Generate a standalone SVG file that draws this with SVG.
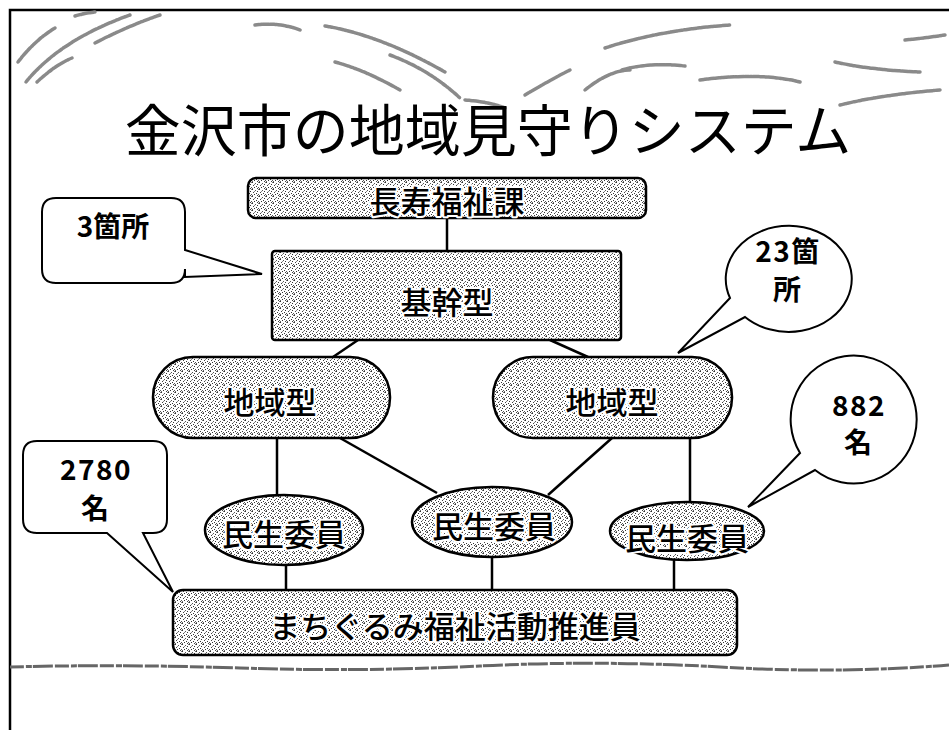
<svg xmlns="http://www.w3.org/2000/svg" width="949" height="730" viewBox="0 0 949 730">
<style>
.box{fill:url(#stip);stroke:#000;stroke-width:2.5}
.lbl{font-family:"Noto Sans CJK JP","Noto Sans",sans-serif;font-size:31px;font-weight:500;fill:#000;text-anchor:middle;dominant-baseline:central;stroke:#fff;stroke-width:4;paint-order:stroke;stroke-linejoin:round}
.call{fill:#fff;stroke:#000;stroke-width:2}
.ctx{font-family:"Noto Sans CJK JP","Liberation Sans",sans-serif;font-size:28px;font-weight:bold;fill:#000;text-anchor:middle;dominant-baseline:central}
.dg{letter-spacing:1.5px}
.con{stroke:#000;stroke-width:2.5;fill:none}
.sw{fill:none;stroke:#8a8a8a;stroke-width:3.5;stroke-dasharray:4 1 2 1 6 1;stroke-linecap:round}
</style>
<defs>
<pattern id="stip" width="7" height="7" patternUnits="userSpaceOnUse">
<rect width="7" height="7" fill="#fff"/>
<rect x="0" y="0" width="1" height="1" fill="#333"/>
<rect x="3" y="1" width="1" height="1" fill="#555"/>
<rect x="5" y="2" width="1" height="1" fill="#333"/>
<rect x="1" y="3" width="1" height="1" fill="#444"/>
<rect x="4" y="4" width="1" height="1" fill="#333"/>
<rect x="6" y="5" width="1" height="1" fill="#555"/>
<rect x="2" y="5" width="1" height="1" fill="#333"/>
<rect x="0" y="6" width="1" height="1" fill="#666"/>
<rect x="5" y="6" width="1" height="1" fill="#444"/>
<rect x="2" y="2" width="1" height="1" fill="#888"/>
<rect x="6" y="0" width="1" height="1" fill="#777"/>
</pattern>
</defs>
<rect width="949" height="730" fill="#fff"/>
<!-- frame -->
<path d="M10 730 V10 H949" fill="none" stroke="#000" stroke-width="2.5"/>
<!-- decorative swooshes -->
<g id="decor">
<path class="sw" d="M18 62 Q35 40 55 28"/>
<path class="sw" d="M26 82 Q60 40 130 15"/>
<path class="sw" d="M37 82 Q55 65 72 58"/>
<path class="sw" d="M95 43 Q130 25 160 15"/>
<path class="sw" d="M75 16 Q85 13 95 12"/>
<path class="sw" d="M255 25 Q280 22 300 30"/>
<path class="sw" d="M325 26 Q380 35 445 72"/>
<path class="sw" d="M335 62 Q365 70 400 90"/>
<path class="sw" d="M390 55 Q430 70 460 98"/>
<path class="sw" d="M465 100 Q490 102 505 108"/>
<path class="sw" d="M525 95 Q550 80 570 70"/>
<path class="sw" d="M585 90 Q610 70 630 70"/>
<path class="sw" d="M605 48 Q660 30 730 25"/>
<path class="sw" d="M622 70 Q650 62 685 66"/>
<path class="sw" d="M700 80 Q760 72 800 82"/>
<path class="sw" d="M835 62 Q870 70 920 72"/>
<path class="sw" d="M840 105 Q880 95 940 90"/>
<path class="sw" d="M905 40 Q925 38 945 35"/>
</g>
<!-- bottom wavy line -->
<path d="M10 667 Q120 664 240 668 T480 666 T720 667 T949 665" fill="none" stroke="#666" stroke-width="3" stroke-dasharray="14 2 6 1 20 2"/>
<!-- title -->
<text x="488" y="126" font-family="Noto Sans CJK JP, Noto Sans, sans-serif" font-size="56" text-anchor="middle" dominant-baseline="central" fill="#000">金沢市の地域見守りシステム</text>
<!-- connectors -->
<g id="connectors">
<line class="con" x1="447" y1="218" x2="447" y2="251"/>
<line class="con" x1="358" y1="340" x2="333" y2="357"/>
<line class="con" x1="550" y1="340" x2="588" y2="357"/>
<line class="con" x1="277" y1="438" x2="277" y2="495"/>
<line class="con" x1="340" y1="438" x2="437" y2="493"/>
<line class="con" x1="612" y1="438" x2="548" y2="495"/>
<line class="con" x1="690" y1="438" x2="690" y2="503"/>
<line class="con" x1="286" y1="565" x2="286" y2="590"/>
<line class="con" x1="492" y1="557" x2="492" y2="590"/>
<line class="con" x1="674" y1="559" x2="674" y2="590"/>
</g>
<!-- nodes -->
<g id="n-choju">
<rect class="box" x="248" y="178" width="398" height="40" rx="8"/>
<text class="lbl" x="447" y="199">長寿福祉課</text>
</g>
<g id="n-kikan">
<rect class="box" x="272" y="251" width="349" height="89" rx="3"/>
<text class="lbl" x="447" y="300">基幹型</text>
</g>
<g id="n-chiiki1">
<rect class="box" x="153" y="357" width="237" height="81" rx="40"/>
<text class="lbl" x="270" y="400">地域型</text>
</g>
<g id="n-chiiki2">
<rect class="box" x="493" y="357" width="239" height="81" rx="40"/>
<text class="lbl" x="612" y="400">地域型</text>
</g>
<g id="n-minsei1">
<ellipse class="box" cx="284" cy="530" rx="79" ry="35"/>
<text class="lbl" x="284" y="532">民生委員</text>
</g>
<g id="n-minsei2">
<ellipse class="box" cx="492" cy="522" rx="80" ry="35"/>
<text class="lbl" x="494" y="524">民生委員</text>
</g>
<g id="n-minsei3">
<ellipse class="box" cx="687" cy="531" rx="77" ry="29"/>
<text class="lbl" x="687" y="536">民生委員</text>
</g>
<g id="n-machi">
<rect class="box" x="173" y="590" width="564" height="65" rx="10"/>
<text class="lbl" x="455" y="624">まちぐるみ福祉活動推進員</text>
</g>
<!-- callouts -->
<g id="c-3">
<path class="call" d="M56 198 H171 Q185 198 185 212 V250 L262 274 L185 277 V269 Q185 283 171 283 H56 Q42 283 42 269 V212 Q42 198 56 198 Z"/>
<text class="ctx" x="113" y="225">3箇所</text>
</g>
<g id="c-23">
<path class="call" d="M730 298 A63 53 0 1 1 745 317 L678 353 Z"/>
<text class="ctx dg" x="788" y="250">23箇</text>
<text class="ctx" x="787" y="288">所</text>
</g>
<g id="c-882">
<path class="call" d="M800 453 A63 64 0 1 1 815 470 L748 507 Z"/>
<text class="ctx dg" x="859" y="404">882</text>
<text class="ctx" x="858" y="441">名</text>
</g>
<g id="c-2780">
<path class="call" d="M37 441 H153 Q167 441 167 455 V519 Q167 533 153 533 H143 L173 592 L107 533 H37 Q23 533 23 519 V455 Q23 441 37 441 Z"/>
<text class="ctx dg" x="96" y="468">2780</text>
<text class="ctx" x="95" y="507">名</text>
</g>
</svg>
